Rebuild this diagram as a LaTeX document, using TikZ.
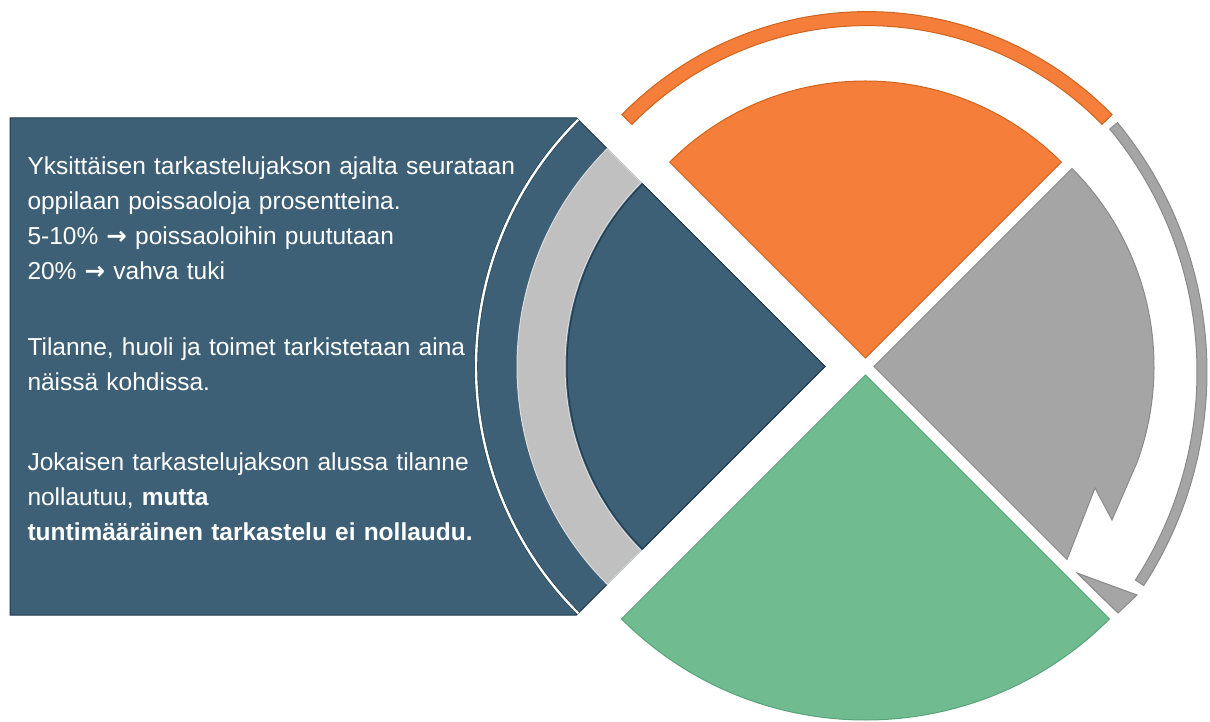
\documentclass[tikz,border=0pt]{standalone}
\usepackage{fontspec}
\setmainfont{Liberation Sans}
\newfontfamily\arrowfont{DejaVu Sans}
\definecolor{boxblue}{HTML}{3E6076}
\definecolor{boxline}{HTML}{1E3A4E}
\definecolor{bandgray}{HTML}{C0C0C0}
\definecolor{bandline}{HTML}{DCDCDC}
\definecolor{orangefill}{HTML}{F47E3A}
\definecolor{orangeline}{HTML}{D0641E}
\definecolor{grayfill}{HTML}{A5A5A5}
\definecolor{grayline}{HTML}{8A8A8A}
\definecolor{greenfill}{HTML}{71BB91}
\definecolor{greenline}{HTML}{58A47A}
\tikzstyle{boxpart}=[draw=boxline,fill=boxblue]
\tikzstyle{bandpart}=[draw=bandline,fill=bandgray]
\tikzstyle{orangepart}=[draw=orangeline,fill=orangefill]
\tikzstyle{graypart}=[draw=grayline,fill=grayfill]
\tikzstyle{greenpart}=[draw=greenline,fill=greenfill]
\tikzstyle{whiteline}=[draw=boxline,line width=0.6,double=white,double distance=2.4pt]
\tikzstyle{txt}=[text=white,inner sep=0,anchor=base west,text width=540pt,align=left,font=\fontsize{24.5}{35}\selectfont]
\newcommand{\arr}{{\arrowfont\bfseries →}}
\tikzset{every picture/.style={
    line width=1
  }
}

\begin{document}
\begin{tikzpicture}[x=1pt,y=1pt]
      \useasboundingbox (0,0) rectangle (1210,721);
      \coordinate (bluetip) at (825,354.5);
      \coordinate (orangetip) at (865.5,363);
      \coordinate (graytip) at (874,354.5);
      \coordinate (greentip) at (865.5,346);
      % left box with its wedge
      \draw[boxpart] (10,603) -- (576.5,603) -- (bluetip) -- (576.5,106) -- (10,106) -- cycle;
      \draw[whiteline] (bluetip) ++(135:349) arc[start angle=135,end angle=225,radius=349];
      \draw[bandpart,shift={(825,354.5)}] (135:260) arc[start angle=135,end angle=225,radius=260]
        -- (225:308) arc[start angle=225,end angle=135,radius=308] -- cycle;
      \draw[boxpart] (bluetip) -- ++(135:258) arc[start angle=135,end angle=225,radius=258] -- cycle;
      % wedges
      \draw[orangepart] (orangetip) -- ++(45:277) arc[start angle=45,end angle=135,radius=277] -- cycle;
      \draw[graypart] (graytip) -- ++(45:280) arc[start angle=45,end angle=-19.9,radius=280]
        -- (1112,201) -- (1095,233) -- (1067,161.5) -- cycle;
      \draw[greenpart] (greentip) -- ++(225:345) arc[start angle=225,end angle=315,radius=345] -- cycle;
      % outer arcs
      \draw[orangepart,shift={(867,366.4)}] (44.4:329) arc[start angle=44.4,end angle=135.6,radius=329]
        -- (135.6:343) arc[start angle=135.6,end angle=44.4,radius=343] -- cycle;
      \draw[graypart,shift={(815,349)}] (39.5:382) arc[start angle=39.5,end angle=-33,radius=382]
        -- (-33:392) arc[start angle=-33,end angle=39.5,radius=392] -- cycle;
      \draw[graypart] (1077,148) -- (1137,126) -- (1118,108) -- cycle;
      % text
      \node[txt] (intro) at (27,546) {Yksittäisen tarkastelujakson ajalta seurataan\\
        oppilaan poissaoloja prosentteina.\\
        5-10\% \arr{} poissaoloihin puututaan\\
        20\% \arr{} vahva tuki};
      \node[txt] (checks) at (27,365) {Tilanne, huoli ja toimet tarkistetaan aina\\
        näissä kohdissa.};
      \node[txt] (reset) at (27,251) {Jokaisen tarkastelujakson alussa tilanne\\
        nollautuu, \textbf{mutta}\\
        \textbf{tuntimääräinen tarkastelu ei nollaudu.}};
    \end{tikzpicture}
\end{document}
